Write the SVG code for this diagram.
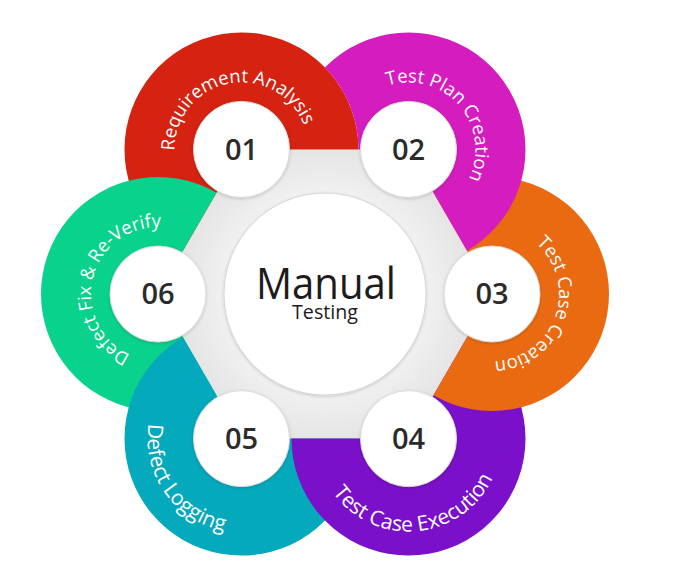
<svg xmlns="http://www.w3.org/2000/svg" width="680" height="579" viewBox="0 0 680 579">
<defs>
<style>
.lbl{font-family:"Open Sans","Liberation Sans",sans-serif;fill:#ffffff;text-anchor:middle}
.out{font-size:18.5px}
.in{font-size:21px}
.num{font-family:"Open Sans","Liberation Sans",sans-serif;font-size:29px;font-weight:600;fill:#2b2b2b;text-anchor:middle}
.dot{fill:#ffffff;stroke:#dadada;stroke-width:1;filter:url(#sh)}
.ctr{font-family:"Open Sans","Liberation Sans",sans-serif;fill:#1c1c1c;text-anchor:middle}
</style>
<radialGradient id="hexg" cx="325" cy="294" r="167" gradientUnits="userSpaceOnUse">
<stop offset="0.55" stop-color="#f3f3f3"/>
<stop offset="1" stop-color="#dfdfdf"/>
</radialGradient>
<filter id="sh" x="-20%" y="-20%" width="140%" height="140%">
<feDropShadow dx="0" dy="1" stdDeviation="1.5" flood-color="#000000" flood-opacity="0.18"/>
</filter>
<clipPath id="notRed">
<path clip-rule="evenodd" d="M0,0H680V579H0Z M358.5,149.4 A117,117 0 1 0 124.5,149.4 A117,117 0 1 0 358.5,149.4Z"/>
</clipPath>
<path id="p01" d="M219.68,212.75 A67,67 0 1 1 285.46,199.96"/>
<path id="p02" d="M342.73,162.18 A67,67 0 1 1 386.68,212.75"/>
<path id="p03" d="M448.49,243.05 A67,67 0 1 1 426.12,306.21"/>
<path id="p04" d="M354.89,362.61 A93,93 0 1 0 447.51,354.17"/>
<path id="p05" d="M281.23,353.41 A94,94 0 1 0 335.14,430.41"/>
<path id="p06" d="M206.60,340.12 A67,67 0 1 1 222.24,274.97"/>
</defs>

<rect width="680" height="579" fill="#ffffff"/>

<g id="hub">
<polygon points="492,294 408.5,438.6 241.5,438.6 158,294 241.5,149.4 408.5,149.4" fill="url(#hexg)"/>
<circle cx="325" cy="294" r="101" fill="#ffffff" stroke="#d6d6d6" stroke-width="1" filter="url(#sh)"/>
<text class="ctr" x="326" y="299" font-size="44" textLength="140" lengthAdjust="spacingAndGlyphs">Manual</text>
<text class="ctr" x="325" y="319" font-size="20" textLength="66" lengthAdjust="spacingAndGlyphs">Testing</text>
</g>

<g id="connectors"></g>

<g id="node01">
<path d="M241.5,149.4 L183,250.72 A117,117 0 1 1 358.5,149.4 Z" fill="#d52211"/>
<circle class="dot" cx="241.5" cy="149.4" r="48"/>
<text class="num" x="241.5" y="159.5">01</text>
<text class="lbl out"><textPath href="#p01" startOffset="50%">Requirement Analysis</textPath></text>
</g>

<g id="node06">
<path d="M158,294 L216.5,395.32 A117,117 0 1 1 216.5,192.68 Z" fill="#08d28b"/>
<circle class="dot" cx="158" cy="294" r="48"/>
<text class="num" x="158" y="304">06</text>
<text class="lbl out"><textPath href="#p06" startOffset="50%">Defect Fix &amp; Re-Verify</textPath></text>
</g>

<g id="node05">
<path d="M241.5,438.6 L358.5,438.6 A117,117 0 1 1 183,337.28 Z" fill="#05a9bc"/>
<circle class="dot" cx="241.5" cy="438.6" r="48"/>
<text class="num" x="241.5" y="448.7">05</text>
<text class="lbl in"><textPath href="#p05" startOffset="50%">Defect Logging</textPath></text>
</g>

<g id="node04">
<path d="M408.5,438.6 L467,337.28 A117,117 0 1 1 291.5,438.6 Z" fill="#7a10c9"/>
<circle class="dot" cx="408.5" cy="438.6" r="48"/>
<text class="num" x="408.5" y="448.7">04</text>
<text class="lbl in"><textPath href="#p04" startOffset="50%">Test Case Execution</textPath></text>
</g>

<g id="node03">
<path d="M492,294 L433.5,192.68 A117,117 0 1 1 433.5,395.32 Z" fill="#ea6a12"/>
<circle class="dot" cx="492" cy="294" r="48"/>
<text class="num" x="492" y="304">03</text>
<text class="lbl out"><textPath href="#p03" startOffset="50%">Test Case Creation</textPath></text>
</g>

<g id="node02">
<path d="M408.5,149.4 L291.5,149.4 A117,117 0 1 1 467,250.72 Z" fill="#d51cbe" clip-path="url(#notRed)"/>
<circle class="dot" cx="408.5" cy="149.4" r="48"/>
<text class="num" x="408.5" y="159.5">02</text>
<text class="lbl out"><textPath href="#p02" startOffset="50%">Test Plan Creation</textPath></text>
</g>
</svg>
